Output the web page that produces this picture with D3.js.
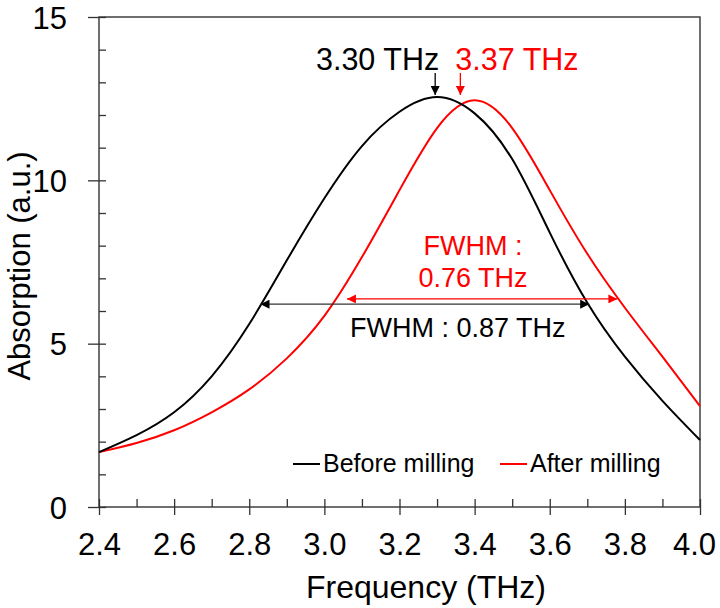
<!DOCTYPE html>
<html>
<head>
<meta charset="utf-8">
<script src="https://cdn.jsdelivr.net/npm/d3@7"></script>
<style>
  body { margin: 0; background: #fff; }
  svg { display: block; font-family: "Liberation Sans", Arial, sans-serif; }
</style>
</head>
<body>
<div id="chart"></div>
<script>
// frequency (THz) and absorption (a.u.)
var freq = [2.4, 2.5, 2.6, 2.7, 2.8, 2.9, 3.0, 3.1, 3.2, 3.3, 3.4, 3.5, 3.6, 3.7, 3.8, 3.9, 4.0];
var before = [1.68, 2.2, 2.9, 4.0, 5.6, 7.55, 9.45, 11.05, 12.1, 12.55, 12.05, 10.65, 8.4, 6.25, 4.6, 3.25, 2.05];
var after = [1.68, 1.96, 2.35, 2.9, 3.6, 4.55, 5.85, 7.65, 9.7, 11.6, 12.45, 11.6, 9.7, 7.75, 6.1, 4.6, 3.09];

var xTicks = [2.4, 2.6, 2.8, 3.0, 3.2, 3.4, 3.6, 3.8, 4.0];
var yTicks = [0, 5, 10, 15];

// annotations: peak arrows and FWHM spans
var peaks = [
  {f: 3.295, label: "3.30 THz", color: "#000", anchor: "end", dx: 4},
  {f: 3.362, label: "3.37 THz", color: "#f00", anchor: "start", dx: -5}
];
var fwhmBlack = {from: 2.83, to: 3.705, level: 6.21};
var fwhmRed = {from: 3.06, to: 3.78, level: 6.37};

var width = 720, height = 608;
var margin = {top: 17, right: 20, bottom: 101, left: 99};
var chartWidth = width - margin.left - margin.right;
var chartHeight = height - margin.top - margin.bottom;

var svg = d3.select("#chart").append("svg")
    .attr("width", width)
    .attr("height", height);

var defs = svg.append("defs");
[["arrowBlack", "#000"], ["arrowRed", "#f00"]].forEach(function(m) {
  defs.append("marker")
      .attr("id", m[0])
      .attr("viewBox", "0 0 10 10")
      .attr("refX", 10).attr("refY", 5)
      .attr("markerWidth", 11).attr("markerHeight", 9)
      .attr("markerUnits", "userSpaceOnUse")
      .attr("orient", "auto-start-reverse")
    .append("path")
      .attr("d", "M0,0L10,5L0,10Z")
      .attr("fill", m[1]);
});

var g = svg.append("g")
    .attr("transform", `translate(${margin.left}, ${margin.top})`);

var xScale = d3.scaleLinear().domain([2.4, 4.0]).range([0, chartWidth]);
var yScale = d3.scaleLinear().domain([0, 15]).range([chartHeight, 0]);

// minor ticks (inside only)
var xMinor = d3.axisBottom(xScale).tickValues(d3.range(2.5, 4.0, 0.2)).tickSize(-8).tickFormat("");
var yMinor = d3.axisLeft(yScale).tickValues(d3.range(0, 15).filter(d => d % 5 != 0)).tickSize(-7).tickFormat("");
g.append("g").attr("class", "minor").attr("transform", `translate(0, ${chartHeight})`).call(xMinor);
g.append("g").attr("class", "minor").call(yMinor);

// major ticks crossing the axis
var xAxis = d3.axisBottom(xScale).tickValues(xTicks).tickSizeInner(8).tickSizeOuter(0).tickPadding(18)
    .tickFormat(d3.format(".1f"));
var yAxis = d3.axisLeft(yScale).tickValues(yTicks).tickSizeInner(11).tickSizeOuter(0).tickPadding(21);

var gx = g.append("g").attr("transform", `translate(0, ${chartHeight})`).call(xAxis);
gx.selectAll(".tick").append("line").attr("y2", -8);
var gy = g.append("g").call(yAxis);
gy.selectAll(".tick").append("line").attr("x2", 7);

g.selectAll(".domain").remove();
g.selectAll(".tick line, .minor line").attr("stroke", "#333").attr("stroke-width", 1.3);
g.selectAll(".tick text")
    .attr("fill", "#000")
    .style("font-size", "31px")
    .style("font-family", "Liberation Sans, Arial, sans-serif");
gx.selectAll(".tick text").attr("dy", "0.72em");
gx.selectAll(".tick text").filter(d => d == 4.0).attr("x", -6);
gy.selectAll(".tick text").attr("dy", "0.36em");

// frame
g.append("rect")
    .attr("width", chartWidth).attr("height", chartHeight)
    .attr("fill", "none").attr("stroke", "#333").attr("stroke-width", 1.4);

var line = d3.line()
    .x(d => xScale(d[0]))
    .y(d => yScale(d[1]))
    .curve(d3.curveNatural);

g.append("path")
    .datum(d3.zip(freq, after))
    .attr("fill", "none").attr("stroke", "#f00").attr("stroke-width", 2)
    .attr("d", line);

g.append("path")
    .datum(d3.zip(freq, before))
    .attr("fill", "none").attr("stroke", "#000").attr("stroke-width", 2)
    .attr("d", line);

// peak arrows + labels
peaks.forEach(function(p) {
  g.append("line")
      .attr("x1", xScale(p.f)).attr("x2", xScale(p.f))
      .attr("y1", 56).attr("y2", 78)
      .attr("stroke", p.color).attr("stroke-width", 1.3)
      .attr("marker-end", p.color == "#000" ? "url(#arrowBlack)" : "url(#arrowRed)");
  g.append("text")
      .attr("x", xScale(p.f) + p.dx).attr("y", 53)
      .attr("text-anchor", p.anchor)
      .attr("fill", p.color)
      .style("font-size", "30.5px")
      .text(p.label);
});

// FWHM spans
[[fwhmRed, "#f00", "url(#arrowRed)"], [fwhmBlack, "#333", "url(#arrowBlack)"]].forEach(function(s) {
  g.append("line")
      .attr("x1", xScale(s[0].from)).attr("x2", xScale(s[0].to))
      .attr("y1", yScale(s[0].level)).attr("y2", yScale(s[0].level))
      .attr("stroke", s[1]).attr("stroke-width", 1.2)
      .attr("marker-start", s[2]).attr("marker-end", s[2]);
});

g.append("text").attr("x", 374).attr("y", 238).attr("text-anchor", "middle")
    .attr("fill", "#f00").style("font-size", "27px").text("FWHM :");
g.append("text").attr("x", 374).attr("y", 270).attr("text-anchor", "middle")
    .attr("fill", "#f00").style("font-size", "27px").text("0.76 THz");
g.append("text").attr("x", 251).attr("y", 320)
    .attr("fill", "#000").style("font-size", "27px").text("FWHM : 0.87 THz");

// legend
var legend = [["Before milling", "#000", 194], ["After milling", "#f00", 401]];
legend.forEach(function(l) {
  g.append("line")
      .attr("x1", l[2]).attr("x2", l[2] + 27)
      .attr("y1", 447).attr("y2", 447)
      .attr("stroke", l[1]).attr("stroke-width", 2);
  g.append("text")
      .attr("x", l[2] + 30).attr("y", 455)
      .attr("fill", "#000").style("font-size", "25px")
      .text(l[0]);
});

// axis titles
svg.append("text")
    .attr("x", 426).attr("y", 598)
    .attr("text-anchor", "middle")
    .style("font-size", "32px")
    .text("Frequency (THz)");

svg.append("text")
    .attr("transform", "translate(30, 266) rotate(-90)")
    .attr("text-anchor", "middle")
    .style("font-size", "31px")
    .text("Absorption (a.u.)");
</script>
</body>
</html>
